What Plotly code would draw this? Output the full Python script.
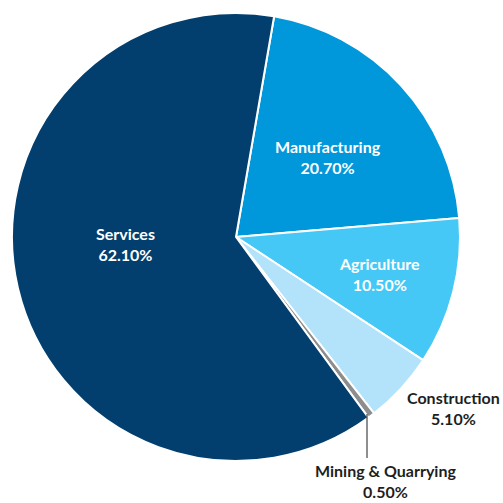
import plotly.graph_objects as go

# Share of output by sector (percent)
sectors = ["Manufacturing", "Agriculture", "Construction", "Mining & Quarrying", "Services"]
shares = [20.70, 10.50, 5.10, 0.50, 62.10]
colors = ["#0098da", "#45c8f6", "#b3e3fa", "#8d8d8d", "#023f6e"]

W = H = 503
FONT = "Lato"

fig = go.Figure(
    go.Pie(
        labels=sectors,
        values=shares,
        sort=False,
        direction="clockwise",
        rotation=9.8,
        marker=dict(colors=colors, line=dict(color="white", width=2)),
        textinfo="none",
        hoverinfo="label+value",
        showlegend=False,
        domain=dict(x=[12 / W, 460 / W], y=[1 - 461 / H, 1 - 13 / H]),
    )
)

# Label placement: pixel anchor of each text block, vertical anchor, text colour
label_xy = {
    "Manufacturing": (328, 157, "middle"),
    "Agriculture": (379, 274, "middle"),
    "Construction": (453, 408, "middle"),
    "Mining & Quarrying": (385, 503, "bottom"),
    "Services": (126, 244, "middle"),
}
label_color = {
    "Manufacturing": "white",
    "Agriculture": "white",
    "Construction": "#1e1e1e",
    "Mining & Quarrying": "#1e1e1e",
    "Services": "white",
}

for name, share in zip(sectors, shares):
    px, py, ya = label_xy[name]
    fig.add_annotation(
        x=px / W, y=1 - py / H, xref="paper", yref="paper",
        xanchor="center", yanchor=ya,
        text=f"<b>{name}</b><br><b>{share:.2f}%</b>",
        showarrow=False, align="center",
        font=dict(family=FONT, size=16, color=label_color[name]),
    )

# Leader line for the mining slice
fig.add_shape(
    type="line", xref="paper", yref="paper",
    x0=367 / W, x1=367 / W, y0=1 - 414 / H, y1=1 - 458 / H,
    line=dict(color="#1e1e1e", width=1),
)

fig.update_layout(
    width=W, height=H,
    margin=dict(l=0, r=0, t=0, b=0),
    paper_bgcolor="white",
    plot_bgcolor="white",
)

fig.write_html("out.html")
